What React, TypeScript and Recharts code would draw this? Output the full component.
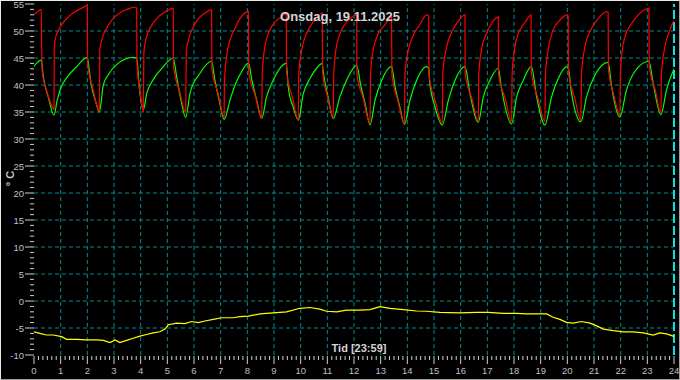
import { LineChart, Line, XAxis, YAxis, ReferenceLine } from "recharts";

// time in hours, value in °C
const RED: [number, number][] = [
  [0, 53], [0.1, 53.4], [0.27, 54], [0.28, 50], [0.31, 42.5], [0.5, 38.5], [0.68, 36], [0.75, 35.5],
  [0.76, 46.5], [0.8, 48.6], [0.92, 50.2], [1.17, 52], [1.55, 53.6], [1.86, 54.4], [2.0, 54.7],
  [2.01, 44], [2.2, 39.5], [2.45, 35.2],
  [2.47, 46.5], [2.55, 48.5], [2.7, 50.3], [2.95, 52.2], [3.3, 53.6], [3.6, 54.2], [3.72, 54.4], [3.85, 54.3],
  [3.86, 44], [4.0, 38], [4.1, 35],
  [4.12, 46], [4.2, 48.5], [4.35, 50.5], [4.6, 52.3], [4.9, 53.5], [5.22, 54.2],
  [5.23, 43.5], [5.45, 39], [5.69, 35],
  [5.71, 46], [5.8, 48.5], [5.95, 50.5], [6.15, 52.2], [6.4, 53.3], [6.66, 53.9],
  [6.67, 43], [6.9, 38.5], [7.13, 34],
  [7.14, 40.4], [7.22, 45.2], [7.35, 48.3], [7.54, 50.5], [7.72, 52.3], [8.04, 53.6],
  [8.05, 42.5], [8.3, 38], [8.54, 33.8],
  [8.56, 42], [8.66, 47.2], [8.85, 50.2], [9.04, 51.7], [9.29, 52.6], [9.46, 53.2],
  [9.47, 42.5], [9.7, 37.5], [9.91, 33.5],
  [9.93, 42], [10.04, 46.5], [10.22, 49.5], [10.47, 51.7], [10.65, 52.8], [10.81, 53.3],
  [10.82, 42.5], [11.0, 38], [11.22, 34.1],
  [11.24, 42], [11.32, 46.5], [11.45, 49.2], [11.65, 51.2], [11.9, 52.5], [12.1, 53],
  [12.11, 42], [12.35, 37.5], [12.6, 32.9],
  [12.62, 42], [12.72, 46.5], [12.91, 49.5], [13.16, 51.2], [13.41, 52.6],
  [13.42, 42], [13.65, 37], [13.89, 32.9],
  [13.91, 42], [14.04, 46.5], [14.22, 49.2], [14.47, 51.2], [14.72, 53], [14.8, 52.8],
  [14.81, 42], [15.05, 37], [15.31, 32.9],
  [15.33, 42], [15.45, 46.5], [15.62, 49.3], [15.87, 51.5], [16.16, 53],
  [16.17, 42], [16.42, 37.5], [16.66, 33.2],
  [16.68, 42], [16.78, 46.5], [16.95, 49.3], [17.15, 51.3], [17.41, 52.6],
  [17.42, 42], [17.67, 37.5], [17.91, 33.2],
  [17.93, 42], [18.04, 47.2], [18.16, 49.5], [18.35, 51.2], [18.47, 52], [18.64, 53],
  [18.65, 42.5], [18.9, 37.5], [19.16, 33.2],
  [19.18, 42], [19.28, 46.5], [19.47, 50.2], [19.72, 52], [19.98, 53], [20.03, 52.8],
  [20.04, 42.5], [20.28, 37.5], [20.51, 33.5],
  [20.53, 42], [20.66, 47.1], [20.91, 50.5], [21.16, 52.3], [21.47, 53.6], [21.53, 53.5],
  [21.54, 43], [21.75, 38], [21.97, 34.4],
  [21.99, 42], [22.05, 46], [22.16, 48.9], [22.41, 51.4], [22.66, 53], [23.06, 54.2],
  [23.07, 43.5], [23.3, 39], [23.51, 34.8],
  [23.53, 42], [23.66, 47.1], [23.85, 50.2], [24, 52],
];

const GREEN: [number, number][] = [
  [0, 43.5], [0.27, 44.6], [0.35, 41.5], [0.55, 37.5], [0.75, 34.4],
  [0.87, 37.2], [1.0, 39.4], [1.25, 41.5], [1.6, 43.4], [2.0, 45.1],
  [2.03, 44.3], [2.15, 40], [2.32, 36.8], [2.45, 35],
  [2.6, 40], [2.8, 42], [3.15, 44], [3.72, 45.1], [3.85, 45],
  [3.95, 39.5], [4.1, 35.4],
  [4.23, 38.5], [4.47, 41], [4.85, 43.4], [5.22, 45],
  [5.35, 41.5], [5.5, 37.5], [5.69, 34],
  [5.85, 38.5], [6.2, 42], [6.66, 44.4],
  [6.78, 41], [6.95, 37], [7.13, 33.6],
  [7.35, 37.2], [7.54, 40], [7.79, 42.5], [8.04, 44.1],
  [8.17, 40.9], [8.35, 37.2], [8.54, 33.8],
  [8.72, 37.8], [8.97, 40.9], [9.22, 43.1], [9.46, 44],
  [9.54, 39.4], [9.72, 35.9], [9.91, 33.5],
  [10.1, 38.4], [10.35, 41.2], [10.6, 43.1], [10.81, 44], [10.83, 43.1],
  [11.04, 37.5], [11.22, 33.8],
  [11.47, 37.8], [11.72, 40.9], [11.97, 43.1], [12.1, 43.7],
  [12.25, 40], [12.42, 36.5], [12.6, 32.6],
  [12.79, 37.2], [13.04, 40.9], [13.41, 43.4],
  [13.54, 39.7], [13.72, 35.9], [13.89, 32.7],
  [14.1, 37.2], [14.35, 40.9], [14.72, 43.4], [14.81, 43], [14.83, 40.9],
  [15.04, 35.9], [15.31, 32.6],
  [15.54, 37.2], [15.79, 40.9], [16.16, 43.4],
  [16.35, 38.4], [16.66, 33.1],
  [16.85, 37.8], [17.1, 40.9], [17.41, 43.1],
  [17.53, 39.4], [17.91, 32.8],
  [18.1, 37.8], [18.35, 40.9], [18.65, 43.4],
  [18.85, 37.8], [19.16, 32.6],
  [19.41, 37.8], [19.66, 41.2], [19.98, 43.4], [20.04, 43],
  [20.16, 38.4], [20.51, 33.2],
  [20.72, 37.8], [21.03, 41.8], [21.53, 44.2],
  [21.66, 39.7], [21.97, 34.1],
  [22.22, 39.1], [22.53, 42.5], [23.06, 44.4],
  [23.22, 40.3], [23.51, 34.5],
  [23.72, 39.1], [24, 43],
];

const YELLOW: [number, number][] = [
  [0, -5.7], [0.22, -6.0], [0.47, -6.3], [0.72, -6.3], [1.04, -6.6], [1.22, -7.1], [1.6, -7.1],
  [1.98, -7.2], [2.35, -7.2], [2.6, -7.3], [2.85, -7.7], [3.04, -7.2], [3.22, -7.7], [3.47, -7.3],
  [3.72, -6.9], [3.97, -6.5], [4.22, -6.2], [4.47, -5.9], [4.72, -5.7], [4.91, -5.2], [5.04, -4.4],
  [5.35, -4.1], [5.66, -4.2], [5.91, -3.8], [6.16, -4.0], [6.41, -3.7], [6.72, -3.4], [7.04, -3.1],
  [7.47, -3.1], [7.72, -2.9], [8.04, -2.8], [8.47, -2.4], [8.97, -2.2], [9.47, -2.0], [9.97, -1.35],
  [10.35, -1.2], [10.72, -1.5], [10.97, -1.9], [11.35, -2.0], [11.72, -1.7], [12.22, -1.7],
  [12.6, -1.6], [12.97, -1.05], [13.35, -1.35], [13.85, -1.6], [14.35, -1.85], [14.72, -1.9],
  [15.22, -2.1], [15.97, -2.2], [16.6, -2.1], [17.04, -2.1], [17.6, -2.3], [18.1, -2.3],
  [18.47, -2.4], [19.04, -2.4], [19.22, -2.4], [19.47, -3.0], [19.72, -3.4], [19.97, -3.95],
  [20.22, -4.1], [20.53, -3.8], [20.85, -4.1], [21.1, -4.6], [21.35, -5.2], [21.72, -5.5],
  [22.1, -5.7], [22.47, -5.7], [22.85, -5.9], [23.22, -6.3], [23.47, -5.9], [23.72, -6.1],
  [23.97, -6.5], [24, -6.6],
];

const HOUR_LABELS = [0, 1, 2, 3, 4, 5, 6, 7, 8, 9, 10, 11, 12, 13, 14, 15, 16, 17, 18, 19, 20, 21, 22, 23, 24];
const Y_LABELS = [-10, -5, 0, 5, 10, 15, 20, 25, 30, 35, 40, 45, 50, 55];
const GRID_Y = [-5, 0, 5, 10, 15, 20, 25, 30, 35, 40, 45, 50];
const GRID_X = HOUR_LABELS.slice(1, 24);

// minor ticks: 10 minutes on x, 1 °C on y
const X_TICKS = Array.from({ length: 24 * 6 + 1 }, (_, i) => i / 6);
const Y_TICKS = Array.from({ length: 66 }, (_, i) => i - 10);

const FONT = "'Liberation Sans', Arial, sans-serif";
const LABEL = "#b9c1c9";
const TICK = "#d0d0d0";
const GRID = "#008c8c";

const pts = (rows: [number, number][]) => rows.map(([t, v]) => ({ t, v }));

function YTick(props: any) {
  const { x, y, payload } = props;
  const v = payload.value;
  const major = Y_LABELS.includes(v);
  return (
    <g>
      <line x1={x - (major ? 9 : 4)} x2={x} y1={y} y2={y} stroke={TICK} />
      {major && (
        <text x={x - 10} y={y + 3.5} textAnchor="end" fill={LABEL} fontSize={9.5} fontFamily={FONT}>
          {v}
        </text>
      )}
    </g>
  );
}

function XTick(props: any) {
  const { x, y, payload } = props;
  const v = payload.value;
  const h = Math.round(v);
  const major = Math.abs(v - h) < 1e-6;
  return (
    <g>
      <line x1={x} x2={x} y1={y + 1} y2={y + (major ? 9 : 5)} stroke={TICK} />
      {major && (
        <text x={x} y={y + 18.5} textAnchor="middle" fill={LABEL} fontSize={9.5} fontFamily={FONT}>
          {h}
        </text>
      )}
    </g>
  );
}

export default function App() {
  return (
    <div style={{ position: "absolute", left: 0, top: 0, width: 680, height: 380, background: "#000", fontFamily: FONT }}>
      <LineChart width={680} height={380} margin={{ top: 4, right: 6, bottom: 0, left: 0 }}>
        <XAxis
          type="number"
          dataKey="t"
          domain={[0, 24]}
          ticks={X_TICKS}
          interval={0}
          tick={<XTick />}
          tickLine={false}
          axisLine={false}
          tickSize={0}
          tickMargin={0}
          height={25}
          allowDataOverflow
        />
        <YAxis
          type="number"
          domain={[-10, 55]}
          ticks={Y_TICKS}
          interval={0}
          tick={<YTick />}
          tickLine={false}
          axisLine={false}
          tickSize={0}
          tickMargin={0}
          width={34}
          allowDataOverflow
        />
        {GRID_Y.map((v) => (
          <ReferenceLine key={"y" + v} y={v} stroke={GRID} strokeDasharray="4 3" />
        ))}
        {GRID_X.map((v) => (
          <ReferenceLine key={"x" + v} x={v} stroke={GRID} strokeDasharray="4 3" />
        ))}
        <ReferenceLine x={24} stroke="#00e6e6" strokeWidth={2} strokeDasharray="9 3" />
        <Line data={pts(YELLOW)} dataKey="v" type="linear" stroke="#ffff00" strokeWidth={1.2} dot={false} activeDot={false} isAnimationActive={false} />
        <Line data={pts(GREEN)} dataKey="v" type="monotone" stroke="#00ff00" strokeWidth={1.2} dot={false} activeDot={false} isAnimationActive={false} />
        <Line data={pts(RED)} dataKey="v" type="monotone" stroke="#ff0000" strokeWidth={1.2} dot={false} activeDot={false} isAnimationActive={false} />
      </LineChart>
      <div style={{ position: "absolute", left: 240, top: 10, width: 200, textAlign: "center", color: "#d4d4d4", fontSize: 13, fontWeight: "bold", lineHeight: "13px" }}>
        Onsdag, 19.11.2025
      </div>
      <div style={{ position: "absolute", left: 309, top: 343, width: 100, textAlign: "center", color: "#d4d4d4", fontSize: 11, fontWeight: "bold", lineHeight: "11px" }}>
        Tid [23:59]
      </div>
      <div style={{ position: "absolute", left: -10, top: 173, width: 40, textAlign: "center", color: "#c8c8c8", fontSize: 11, fontWeight: "bold", lineHeight: "11px", transform: "rotate(-90deg)" }}>
        ° C
      </div>
      <div style={{ position: "absolute", left: 0, top: 0, width: 678, height: 378, borderTop: "1px solid #e8e8e8", borderLeft: "1px solid #e8e8e8", borderRight: "1px solid #a0a0a0", borderBottom: "1px solid #a0a0a0", pointerEvents: "none" }} />
    </div>
  );
}
